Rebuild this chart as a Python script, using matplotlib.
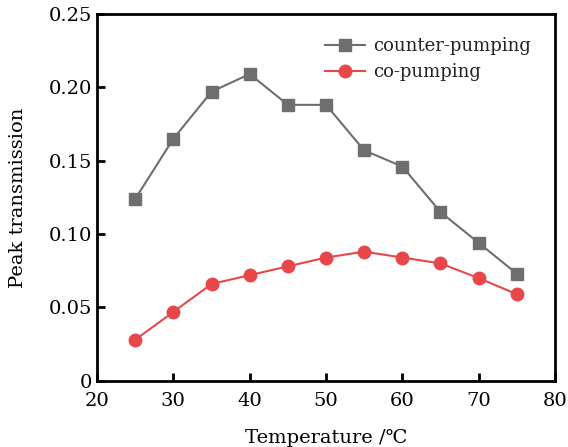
import numpy as np
import matplotlib.pyplot as plt

plt.rcParams['font.family'] = ['DejaVu Serif']
plt.rcParams['mathtext.fontset'] = 'dejavuserif'

temperature = [25, 30, 35, 40, 45, 50, 55, 60, 65, 70, 75]
counter_pumping = [0.124, 0.165, 0.197, 0.209, 0.188, 0.188, 0.157, 0.146, 0.115, 0.094, 0.073]
co_pumping = [0.028, 0.047, 0.066, 0.072, 0.078, 0.084, 0.088, 0.084, 0.080, 0.070, 0.059]
x_ticks = [20, 30, 40, 50, 60, 70, 80]
y_ticks = [0, 0.05, 0.10, 0.15, 0.20, 0.25]
y_tick_labels = ['0', '0.05', '0.10', '0.15', '0.20', '0.25']

fig = plt.figure(figsize=(5.68, 4.47), dpi=100)
ax = fig.add_axes([0.171, 0.148, 0.806, 0.821])

ax.plot(temperature, counter_pumping, color='#6e6e70', marker='s', markersize=8,
        linewidth=1.5, label='counter-pumping')
ax.plot(temperature, co_pumping, color='#e8474a', marker='o', markersize=9,
        linewidth=1.5, label='co-pumping')

ax.set_xlim(20, 80)
ax.set_ylim(0, 0.25)
ax.set_xticks(x_ticks)
ax.set_yticks(y_ticks)
ax.set_yticklabels(y_tick_labels)
ax.tick_params(direction='in', length=6, width=2, labelsize=14, colors='black')
ax.tick_params(axis='x', pad=8)
for s in ax.spines.values():
    s.set_linewidth(2)

ax.set_xlabel('Temperature /\u2103', fontsize=14, labelpad=14)
ax.set_ylabel('Peak transmission', fontsize=14, labelpad=16)

leg = ax.legend(loc='upper right', fontsize=13, frameon=False, handlelength=2.2,
                handletextpad=0.5, borderaxespad=0.9, labelspacing=0.45)
for t in leg.get_texts():
    t.set_color('#222222')

fig.savefig('out.png', dpi=100)
